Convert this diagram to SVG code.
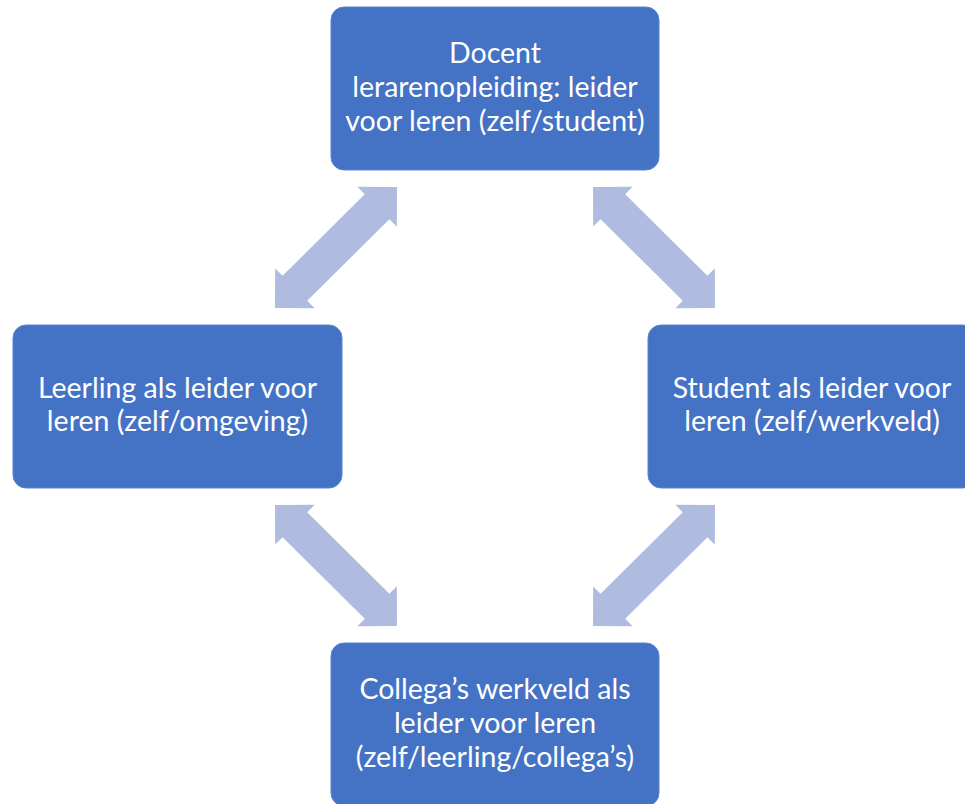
<svg xmlns="http://www.w3.org/2000/svg" width="965" height="804" viewBox="0 0 965 804">
<defs>
<style>
.box{fill:#4472C4;stroke:#5B84CC;stroke-width:1}
.lbl{fill:#FFFFFF;font-family:Lato,"Open Sans","Liberation Sans",sans-serif;font-size:28.5px;text-anchor:middle}
.arr{fill:#B0BCDF}
</style>
<path id="dbl" d="M0,0 L28,-28 L28,-17.5 L143.8,-17.5 L143.8,-28 L171.8,0 L143.8,28 L143.8,17.5 L28,17.5 L28,28 Z"/>
</defs>
<rect width="965" height="804" fill="#FFFFFF"/>
<g id="connectors" class="arr">
<use href="#dbl" transform="translate(275,308) rotate(-44.76)"/>
<use href="#dbl" transform="translate(593,187) rotate(44.76)"/>
<use href="#dbl" transform="translate(275,505) rotate(44.76)"/>
<use href="#dbl" transform="translate(593,626) rotate(-44.76)"/>
</g>
<g id="node-docent">
<rect class="box" x="331" y="7" width="328" height="163" rx="13"/>
<text class="lbl" x="495" y="63">Docent</text>
<text class="lbl" x="495" y="97">lerarenopleiding: leider</text>
<text class="lbl" x="495" y="131">voor leren (zelf/student)</text>
</g>
<g id="node-leerling">
<rect class="box" x="13" y="325" width="329" height="163" rx="13"/>
<text class="lbl" x="177.5" y="398">Leerling als leider voor</text>
<text class="lbl" x="177.5" y="431">leren (zelf/omgeving)</text>
</g>
<g id="node-student">
<rect class="box" x="648" y="325" width="328" height="163" rx="13"/>
<text class="lbl" x="812" y="398">Student als leider voor</text>
<text class="lbl" x="812" y="431">leren (zelf/werkveld)</text>
</g>
<g id="node-collega">
<rect class="box" x="331" y="643" width="328" height="163" rx="13"/>
<text class="lbl" x="495" y="699">Collega’s werkveld als</text>
<text class="lbl" x="495" y="733">leider voor leren</text>
<text class="lbl" x="495" y="767">(zelf/leerling/collega’s)</text>
</g>
</svg>
